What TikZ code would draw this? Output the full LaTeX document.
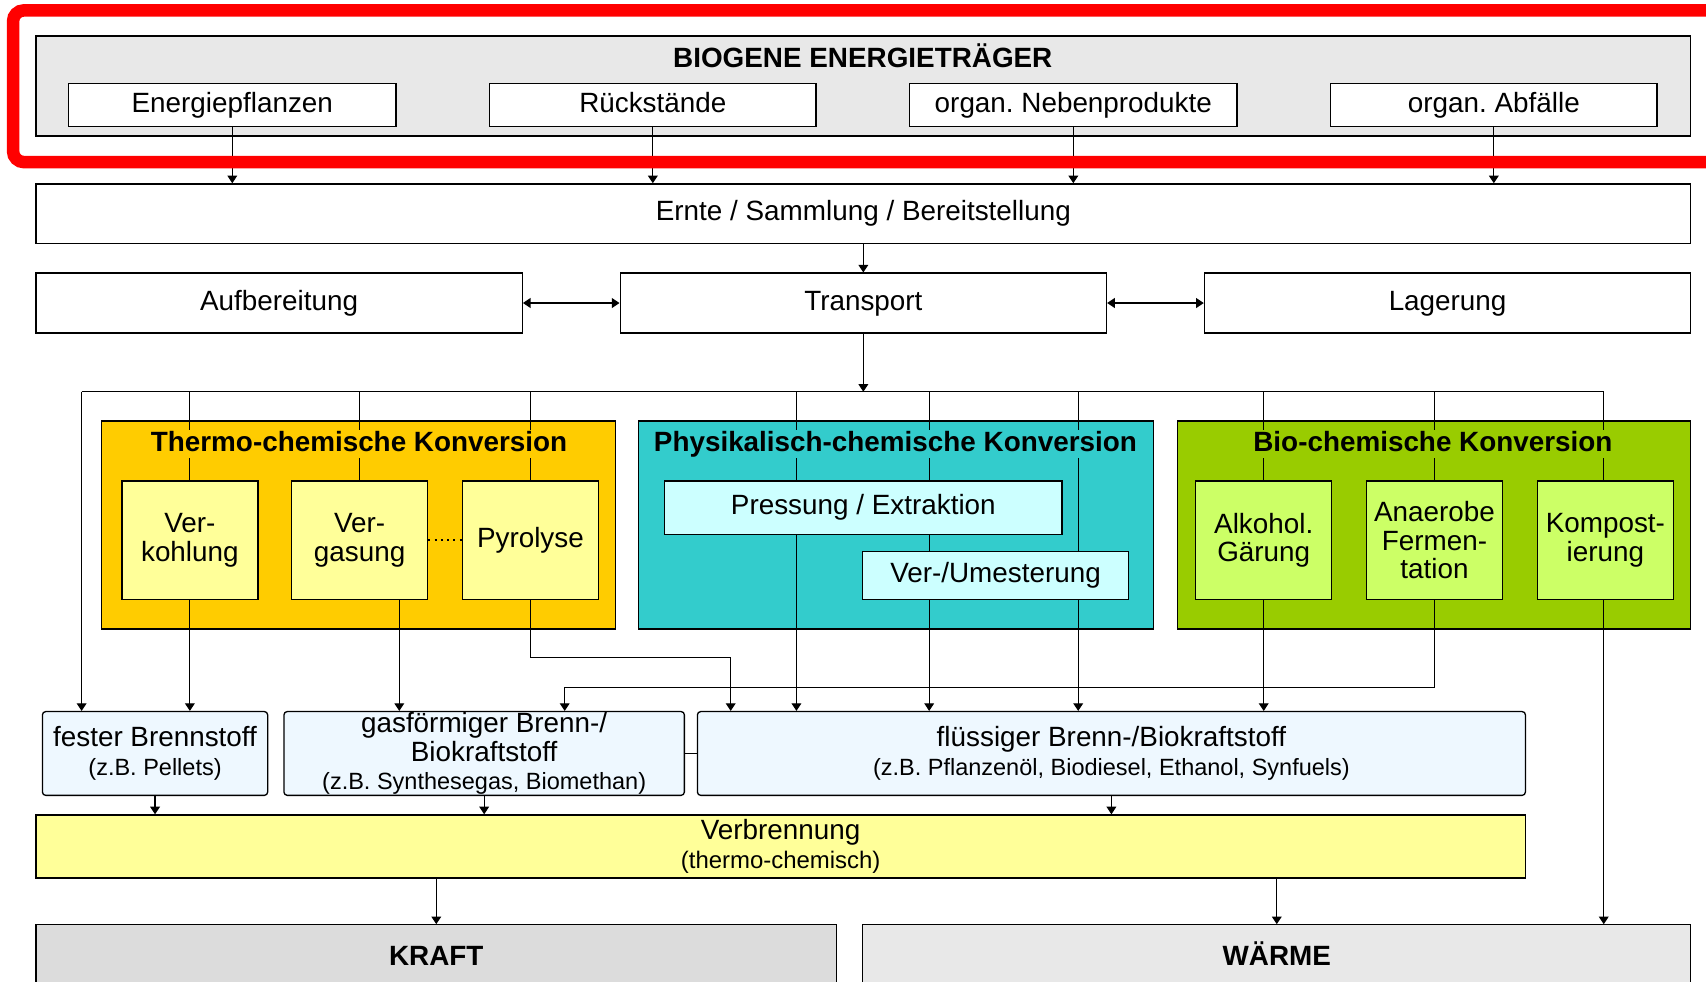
\documentclass[tikz,border=0pt]{standalone}
\usepackage{fontspec}
\setmainfont{Liberation Sans}
\usetikzlibrary{arrows.meta}
\frenchspacing
\definecolor{topgray}{HTML}{E8E8E8}
\definecolor{kraftgray}{HTML}{DCDCDC}
\definecolor{thermoc}{HTML}{FFCC00}
\definecolor{physc}{HTML}{33CCCC}
\definecolor{bioc}{HTML}{99CC00}
\definecolor{paley}{HTML}{FFFF99}
\definecolor{palec}{HTML}{CCFFFF}
\definecolor{paleg}{HTML}{CCFF66}
\definecolor{fuelc}{HTML}{EEF8FF}
\newcommand{\dmain}{\fontsize{12.8}{13}\selectfont}
\newcommand{\dsub}{\fontsize{10.8}{13}\selectfont}
\newcommand{\dtitle}{\fontsize{12.8}{13}\selectfont\bfseries}
\tikzset{
 box/.style={draw=black, line width=0.6pt, inner sep=0pt, align=center, font=\dmain},
 oneline/.style={text height=9.2pt, text depth=2.7pt},
 fuel/.style={box, fill=fuelc, rounded corners=1.5pt},
 conn/.style={line width=0.5pt},
 arr/.style={line width=0.5pt, -{Triangle[length=3.5pt,width=4.5pt]}},
 darr/.style={line width=0.6pt, {Triangle[length=3.5pt,width=4.5pt]}-{Triangle[length=3.5pt,width=4.5pt]}},
 ttl/.style={font=\dtitle, inner xsep=2pt, inner ysep=0.5pt, text height=9.5pt, text depth=2.5pt},
}
\begin{document}
\begin{tikzpicture}[x=0.5pt, y=-0.5pt]
\useasboundingbox (0,0) rectangle (1568,902);
\clip (0,0) rectangle (1568,902);
\fill[white] (0,0) rectangle (1568,902);

% top group
\node[box, fill=topgray, minimum width=760.5pt, minimum height=46pt] (top) at (793.5,79) {};
\node[box, oneline, fill=white, minimum width=150.5pt, minimum height=19.5pt] (ep) at (213.5,96.5) {Energiepflanzen};
\node[box, oneline, fill=white, minimum width=150pt, minimum height=19.5pt] (rs) at (600,96.5) {Rückstände};
\node[box, oneline, fill=white, minimum width=150.5pt, minimum height=19.5pt] (nb) at (986.5,96.5) {organ. Nebenprodukte};
\node[box, oneline, fill=white, minimum width=150pt, minimum height=19.5pt] (ab) at (1373,96.5) {organ. Abfälle};

\node[box, oneline, fill=white, minimum width=760.5pt, minimum height=27.5pt] (ernte) at (793.5,196.5) {Ernte / Sammlung / Bereitstellung};
\node[box, oneline, fill=white, minimum width=223.5pt, minimum height=27.5pt] (aufb) at (256.5,278.5) {Aufbereitung};
\node[box, oneline, fill=white, minimum width=223.5pt, minimum height=27.5pt] (trans) at (793.5,278.5) {Transport};
\node[box, oneline, fill=white, minimum width=223.5pt, minimum height=27.5pt] (lager) at (1330.5,278.5) {Lagerung};

% conversion groups
\node[box, fill=thermoc, minimum width=236.5pt, minimum height=95.5pt] (thermo) at (329.5,482.5) {};
\node[box, fill=physc, minimum width=236.5pt, minimum height=95.5pt] (physik) at (823.5,482.5) {};
\node[box, fill=bioc, minimum width=236pt, minimum height=95.5pt] (bio) at (1318,482.5) {};

\node[box, fill=paley, minimum width=62.5pt, minimum height=54.5pt] (verk) at (174.5,496.5) {Ver-\\kohlung};
\node[box, fill=paley, minimum width=62.5pt, minimum height=54.5pt] (verg) at (330.5,496.5) {Ver-\\gasung};
\node[box, oneline, fill=paley, minimum width=62.5pt, minimum height=54.5pt] (pyro) at (487.5,496.5) {Pyrolyse};
\node[box, oneline, fill=palec, minimum width=182.5pt, minimum height=24.5pt] (press) at (793.5,466.5) {Pressung / Extraktion};
\node[box, oneline, fill=palec, minimum width=122pt, minimum height=22pt] (umest) at (915,529) {Ver-/Umesterung};
\node[box, fill=paleg, minimum width=62.5pt, minimum height=54.5pt] (alk) at (1161.5,496.5) {Alkohol.\\Gärung};
\node[box, fill=paleg, minimum width=62.5pt, minimum height=54.5pt] (anae) at (1318.5,496.5) {Anaerobe\\Fermen-\\tation};
\node[box, fill=paleg, minimum width=62.5pt, minimum height=54.5pt] (komp) at (1475.5,496.5) {Kompost-\\ierung};

% fuels
\node[fuel, minimum width=103.5pt, minimum height=38.5pt] (fest) at (142.5,692.5) {fester Brennstoff\\{\dsub (z.B. Pellets)}};
\node[fuel, minimum width=184pt, minimum height=38.5pt] (gas) at (445,692.5) {gasförmiger Brenn-/\\Biokraftstoff\\{\dsub (z.B. Synthesegas, Biomethan)}};
\node[fuel, minimum width=380.5pt, minimum height=38.5pt] (fluess) at (1021.5,692.5) {flüssiger Brenn-/Biokraftstoff\\{\dsub (z.B. Pflanzenöl, Biodiesel, Ethanol, Synfuels)}};

\node[box, fill=paley, minimum width=684.5pt, minimum height=29pt] (verb) at (717.5,778) {Verbrennung\\{\fontsize{11}{13}\selectfont (thermo-chemisch)}};

\node[box, fill=kraftgray, minimum width=368pt, minimum height=28pt, font=\dtitle, text height=9.2pt, text depth=0pt] (kraft) at (401,878) {KRAFT};
\node[box, fill=topgray, minimum width=380.5pt, minimum height=28pt, font=\dtitle, text height=9.2pt, text depth=0pt] (waerme) at (1173.5,878) {WÄRME};

% coordinates
\coordinate (dist) at (793.5,360);
\coordinate (dL) at (75,360);
\coordinate (dR) at (1474,360);
\coordinate (p1) at (732,360);
\coordinate (p2) at (854,360);
\coordinate (p3) at (991,360);
\coordinate (g1) at (519,632);
\coordinate (vg) at (367,551);
\coordinate (py) at (671.6,604.5);

% connectors top
\foreach \n in {ep,rs,nb,ab}
  \draw[arr] (\n.south) -- (\n.south |- ernte.north);
\draw[arr] (ernte.south) -- (trans.north);
\draw[darr] (aufb.east) -- (trans.west);
\draw[darr] (trans.east) -- (lager.west);
\draw[arr] (trans.south) -- (dist);
\draw[conn] (dL) -- (dR);
\draw[arr] (dL) -- (dL |- fest.north);

% thermo
\foreach \n in {verk,verg,pyro}
  \draw[conn] (\n.north |- dist) -- (\n.north);
\draw[arr] (verk.south) -- (verk.south |- fest.north);
\draw[arr] (vg) -- (vg |- gas.north);
\draw[arr] (pyro.south) -- (pyro.south |- py) -- (py) -- (py |- fluess.north);
\draw[dotted, line width=0.9pt] (verg.east) -- (pyro.west);

% physik
\draw[conn] (p1) -- (p1 |- press.north);
\draw[arr] (p1 |- press.south) -- (p1 |- fluess.north);
\draw[conn] (p2) -- (p2 |- press.north);
\draw[conn] (p2 |- press.south) -- (p2 |- umest.north);
\draw[arr] (p2 |- umest.south) -- (p2 |- fluess.north);
\draw[conn] (p3) -- (p3 |- umest.north);
\draw[arr] (p3 |- umest.south) -- (p3 |- fluess.north);

% bio
\draw[conn] (alk.north |- dist) -- (alk.north);
\draw[arr] (alk.south) -- (alk.south |- fluess.north);
\draw[conn] (anae.north |- dist) -- (anae.north);
\draw[arr] (anae.south) -- (anae.south |- g1) -- (g1) -- (g1 |- gas.north);
\draw[conn] (dR) -- (dR |- komp.north);
\draw[arr] (dR |- komp.south) -- (dR |- waerme.north);

% fuels to combustion
\draw[conn] (gas.east) -- (fluess.west);
\foreach \n in {fest,gas,fluess}
  \draw[arr] (\n.south) -- (\n.south |- verb.north);
\draw[arr] (kraft.north |- verb.south) -- (kraft.north);
\draw[arr] (waerme.north |- verb.south) -- (waerme.north);

% titles
\node[font=\dtitle, text height=9.2pt, text depth=0pt] (toptitle) at (793,53) {BIOGENE ENERGIETRÄGER};
\node[ttl, fill=thermoc] (thermot) at (330,408) {Thermo-chemische Konversion};
\node[ttl, fill=physc] (physikt) at (823,408) {Physikalisch-chemische Konversion};
\node[ttl, fill=bioc] (biot) at (1317,408) {Bio-chemische Konversion};

% red highlight frame
\draw[red, line width=5.75pt, rounded corners=5pt] (12,9.5) rectangle (1640,149);
\end{tikzpicture}
\end{document}
